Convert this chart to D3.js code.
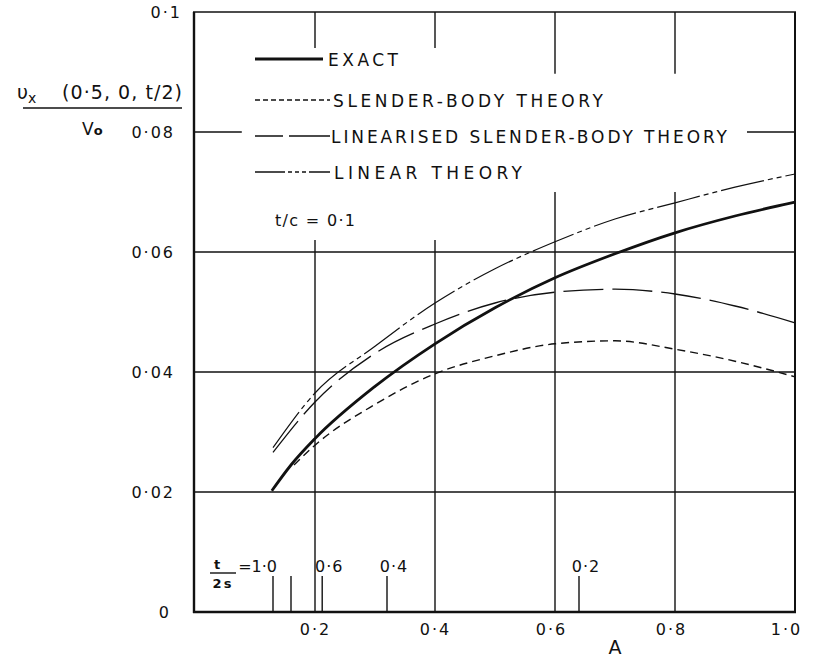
<!doctype html>
<html lang="en">
<head>
<meta charset="utf-8">
<title>Ux against A</title>
<script src="https://cdn.jsdelivr.net/npm/d3@7"></script>
<style>
    body { margin: 0; background: #fff; }
    text { font-family: "DejaVu Sans", sans-serif; fill: #111; }
</style>
</head>
<body>
<script>
// values
var exactA = [0.128, 0.16, 0.2, 0.3, 0.4, 0.5, 0.6, 0.7, 0.8, 0.9, 1.0];
var exactU = [0.0202, 0.0245, 0.0289, 0.0376, 0.0447, 0.0507, 0.0557, 0.0597, 0.0632, 0.066, 0.0683];

var slenderA = [0.165, 0.2, 0.3, 0.4, 0.5, 0.6, 0.7, 0.8, 0.9, 1.0];
var slenderU = [0.0245, 0.0278, 0.0346, 0.0397, 0.0427, 0.0447, 0.0452, 0.0438, 0.0418, 0.0392];

var linSlenderA = [0.13, 0.2, 0.3, 0.4, 0.5, 0.6, 0.7, 0.8, 0.9, 1.0];
var linSlenderU = [0.0266, 0.035, 0.0431, 0.048, 0.0515, 0.0533, 0.0538, 0.053, 0.051, 0.0482];

var linearA = [0.13, 0.2, 0.3, 0.4, 0.5, 0.6, 0.7, 0.8, 0.9, 1.0];
var linearU = [0.0274, 0.0365, 0.0443, 0.0515, 0.0572, 0.0617, 0.0655, 0.0682, 0.0708, 0.073];

var xTicks = [0.2, 0.4, 0.6, 0.8, 1.0];
var xTickLabels = ["0·2", "0·4", "0·6", "0·8", "1·0"];
var yTicks = [0, 0.02, 0.04, 0.06, 0.08, 0.1];
var yTickLabels = ["0", "0·02", "0·04", "0·06", "0·08", "0·1"];

// t/2s markers along the A axis
var tsA = [0.13, 0.16, 0.212, 0.32, 0.64];
var tsLabels = ["1·0", "", "0·6", "0·4", "0·2"];

var legendNames = ["EXACT", "SLENDER-BODY THEORY", "LINEARISED SLENDER-BODY THEORY", "LINEAR THEORY"];

var svg = d3.select("body").append("svg")
    .attr("width", 815).attr("height", 657);

var x = d3.scaleLinear().domain([0, 1]).range([195, 795]);
var y = d3.scaleLinear().domain([0, 0.1]).range([612, 12]);

var ink = "#111";

// grid
var grid = svg.append("g").attr("stroke", ink).attr("stroke-width", 1.4);
[0.02, 0.04, 0.06].forEach(function(v){
    grid.append("line").attr("x1", x(0)).attr("x2", x(1)).attr("y1", y(v)).attr("y2", y(v));
});
// 0.08 line is broken round the legend
grid.append("line").attr("x1", x(0)).attr("x2", x(0.078)).attr("y1", y(0.08)).attr("y2", y(0.08));
grid.append("line").attr("x1", x(0.92)).attr("x2", x(1)).attr("y1", y(0.08)).attr("y2", y(0.08));

xTicks.slice(0, 4).forEach(function(a, i){
    var lowTop = i < 2 ? 0.062 : 0.07;
    var highBot = i < 2 ? 0.094 : 0.0897;
    grid.append("line").attr("x1", x(a)).attr("x2", x(a)).attr("y1", y(0)).attr("y2", y(lowTop));
    grid.append("line").attr("x1", x(a)).attr("x2", x(a)).attr("y1", y(highBot)).attr("y2", y(0.1));
});

// frame
var frame = svg.append("g").attr("stroke", ink).attr("fill", "none");
frame.append("line").attr("x1", x(0) - 1).attr("x2", x(0) - 1).attr("y1", y(0.1)).attr("y2", y(0) + 1).attr("stroke-width", 2.4);
frame.append("line").attr("x1", x(0) - 2).attr("x2", x(1) + 1).attr("y1", y(0)).attr("y2", y(0)).attr("stroke-width", 2.4);
frame.append("line").attr("x1", x(0) - 2).attr("x2", x(1) + 1).attr("y1", y(0.1)).attr("y2", y(0.1)).attr("stroke-width", 1.6);
frame.append("line").attr("x1", x(1)).attr("x2", x(1)).attr("y1", y(0.1)).attr("y2", y(0) + 1).attr("stroke-width", 2);

// axes (labels only)
var xAxis = svg.append("g").attr("transform", "translate(0," + y(0) + ")")
    .call(d3.axisBottom(x).tickValues(xTicks).tickSize(0).tickPadding(12)
        .tickFormat(function(d, i){ return xTickLabels[i]; }));
xAxis.select(".domain").remove();
xAxis.selectAll("text").style("font-size", "16px").style("letter-spacing", "2px")
    .attr("fill", ink)
    .attr("dx", function(d, i){ return i == 4 ? -9 : (i >= 2 ? -4 : 0); });

var yAxis = svg.append("g").attr("transform", "translate(" + x(0) + ",0)")
    .call(d3.axisLeft(y).tickValues(yTicks).tickSize(0).tickPadding(20)
        .tickFormat(function(d, i){ return yTickLabels[i]; }));
yAxis.select(".domain").remove();
yAxis.selectAll("text").style("font-size", "16px").style("letter-spacing", "2px")
    .attr("fill", ink)
    .attr("dx", function(d){ return d == 0.1 ? 7 : (d == 0 ? -4 : 0); });

svg.append("text").attr("x", 615).attr("y", 654).attr("text-anchor", "middle")
    .style("font-size", "19px").text("A");

// y axis title
var title = svg.append("text").attr("x", 17).attr("y", 99).style("font-size", "19px");
title.append("tspan").text("υ");
title.append("tspan").attr("dy", 4).style("font-size", "14px").text("x");
title.append("tspan").attr("x", 62).attr("dy", -4).attr("textLength", 120)
    .attr("lengthAdjust", "spacing").text("(0·5, 0, t/2)");
svg.append("line").attr("x1", 23).attr("x2", 182).attr("y1", 108).attr("y2", 108)
    .attr("stroke", ink).attr("stroke-width", 1.6);
var v0 = svg.append("text").attr("x", 82).attr("y", 135).style("font-size", "17px");
v0.append("tspan").text("V");
v0.append("tspan").style("font-size", "13px").style("font-weight", "bold").text("o");

svg.append("text").attr("x", 275).attr("y", 226).style("font-size", "16px")
    .attr("textLength", 80).attr("lengthAdjust", "spacing").text("t/c = 0·1");

// curves
var line = d3.line()
    .x(function(d){ return x(d[0]); })
    .y(function(d){ return y(d[1]); })
    .curve(d3.curveMonotoneX);

var series = [
    {a: exactA, u: exactU, w: 2.8, dash: null},
    {a: slenderA, u: slenderU, w: 1.4, dash: "8,5"},
    {a: linSlenderA, u: linSlenderU, w: 1.3, dash: "40,9"},
    {a: linearA, u: linearU, w: 1.2, dash: "44,4,5,4,5,4"}
];

svg.append("g").selectAll("path")
    .data(series)
    .enter().append("path")
    .attr("d", function(s){ return line(d3.zip(s.a, s.u)); })
    .attr("fill", "none")
    .attr("stroke", ink)
    .attr("stroke-width", function(s){ return s.w; })
    .attr("stroke-dasharray", function(s){ return s.dash; });

// legend
var legendY = [59, 100, 136, 172];
var legendDash = [null, "5,3", "28,6,30,0", "30,3,4,3,4,3,4,3"];
var legendEnd = [323, 330, 330, 330];
var legendTextX = [328, 333, 331, 334];
var legendTextW = [70, 270, 396, 188];
var lg = svg.append("g");
legendNames.forEach(function(n, i){
    lg.append("line").attr("x1", 255).attr("x2", legendEnd[i])
        .attr("y1", legendY[i]).attr("y2", legendY[i])
        .attr("stroke", ink).attr("stroke-width", i == 0 ? 3 : 1.3)
        .attr("stroke-dasharray", legendDash[i]);
    lg.append("text").attr("x", legendTextX[i]).attr("y", legendY[i] + 6.5)
        .style("font-size", "17px")
        .attr("textLength", legendTextW[i]).attr("lengthAdjust", "spacing")
        .text(n);
});

// t/2s markers
var ts = svg.append("g");
tsA.forEach(function(a, i){
    ts.append("line").attr("x1", x(a)).attr("x2", x(a))
        .attr("y1", y(0)).attr("y2", y(0) - 36)
        .attr("stroke", ink).attr("stroke-width", 1.4);
    if (tsLabels[i] && i > 0) {
        ts.append("text").attr("x", x(a) + 7).attr("y", 572).attr("text-anchor", "middle")
            .style("font-size", "16px").style("letter-spacing", "1px").text(tsLabels[i]);
    }
});
ts.append("text").attr("x", x(tsA[0]) + 4).attr("y", 572).attr("text-anchor", "end")
    .style("font-size", "16px").text("=" + tsLabels[0]);
ts.append("text").attr("x", 217).attr("y", 569).attr("text-anchor", "middle")
    .style("font-size", "13px").style("font-weight", "bold").text("t");
ts.append("line").attr("x1", 210).attr("x2", 236).attr("y1", 573).attr("y2", 573)
    .attr("stroke", ink).attr("stroke-width", 1.4);
ts.append("text").attr("x", 223).attr("y", 588).attr("text-anchor", "middle")
    .style("font-size", "13px").style("font-weight", "bold").style("letter-spacing", "2px").text("2s");
</script>
</body>
</html>
